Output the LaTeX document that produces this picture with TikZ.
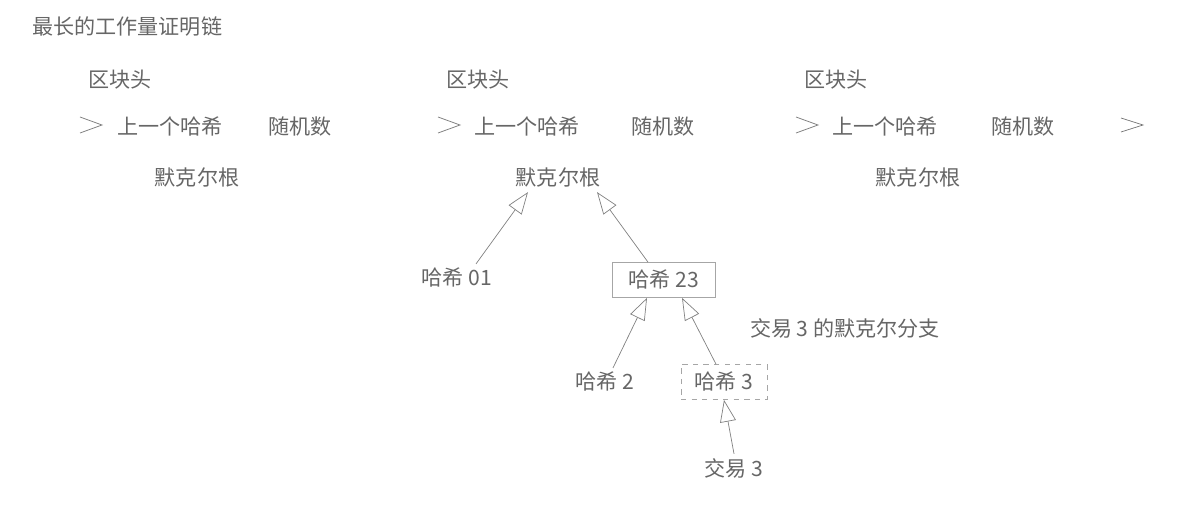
\documentclass[tikz,border=0pt]{standalone}
\usepackage{fontspec}
\setmainfont{Noto Sans CJK SC}
\usetikzlibrary{calc,arrows.meta}

\begin{document}
\begin{tikzpicture}[x=0.02cm,y=-0.02cm,
        txt/.style={text=black!60,font=\fontsize{12}{14}\selectfont,inner sep=0.08cm},
        hashbox/.style={txt,draw=black!35,minimum height=0.7cm},
        tree/.style={draw=black!50,-{Triangle[open,length=0.44cm,width=0.32cm]}},
        chaintip/.style={draw=black!55}]
        \useasboundingbox (0,0) rectangle (1180,516);
        % 标题
        \node [txt,anchor=west,inner sep=0pt] (title) at (32,27) {最长的工作量证明链};
        % 区块1
        \node [txt] (hd1) at (120,80) {区块头};
        \node [txt] (pv1) at (170,127) {上一个哈希};
        \node [txt] (nc1) at (300,127) {随机数};
        \node [txt] (mr1) at (197,178) {默克尔根};
        % 区块2
        \node [txt] (hd2) at (478,80) {区块头};
        \node [txt] (pv2) at (527,127) {上一个哈希};
        \node [txt] (nc2) at (663,127) {随机数};
        \node [txt] (mr2) at (558,178) {默克尔根};
        % 区块3
        \node [txt] (hd3) at (836,80) {区块头};
        \node [txt] (pv3) at (885,127) {上一个哈希};
        \node [txt] (nc3) at (1023,127) {随机数};
        \node [txt] (mr3) at (918,178) {默克尔根};
        % 链上的箭头
        \coordinate (c1) at (102,125);
        \coordinate (c2) at (460,125);
        \coordinate (c3) at (818,125);
        \coordinate (c4) at (1143,125);
        \draw [chaintip] ($(c1)+(-22,-8)$) -- (c1) -- ($(c1)+(-22,8)$);
        \draw [chaintip] ($(c2)+(-22,-8)$) -- (c2) -- ($(c2)+(-22,8)$);
        \draw [chaintip] ($(c3)+(-22,-8)$) -- (c3) -- ($(c3)+(-22,8)$);
        \draw [chaintip] ($(c4)+(-22,-7)$) -- (c4) -- ($(c4)+(-22,7)$);
        % 默克尔树
        \node [txt] (h01) at (457,278) {哈希 01};
        \node [hashbox,minimum width=2.06cm] (h23) at (664,280) {哈希 23};
        \node [txt] (h2) at (605,382) {哈希 2};
        \node [hashbox,dashed,minimum width=1.72cm] (h3) at (724,382) {哈希 3};
        \node [txt] (tx3) at (734,468) {交易 3};
        \node [txt] (br) at (845,328) {交易 3 的默克尔分支};
        % 树的箭头
        \draw [tree] ([xshift=0.38cm]h01.north) -- ([xshift=-0.6cm]mr2.south);
        \draw [tree] ([xshift=-0.32cm]h23.north) -- ([xshift=0.78cm]mr2.south);
        \draw [tree] ([xshift=0.16cm]h2.north) -- ([xshift=-0.34cm]h23.south);
        \draw [tree] ([xshift=-0.16cm]h3.north) -- ([xshift=0.36cm]h23.south);
        \draw [tree] (tx3.north) -- (h3.south);
\end{tikzpicture}
\end{document}
